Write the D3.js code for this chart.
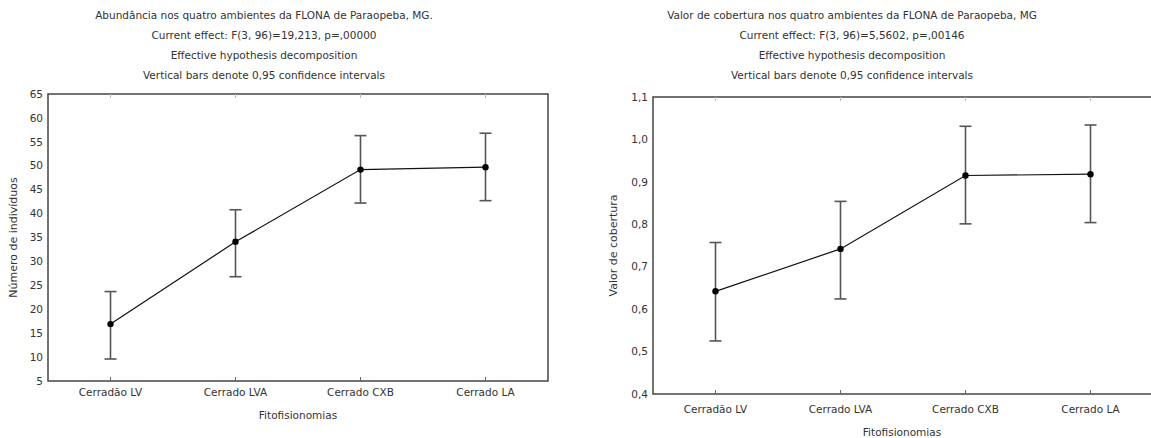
<!DOCTYPE html>
<html>
<head>
<meta charset="utf-8">
<script src="https://cdn.jsdelivr.net/npm/d3@7"></script>
<style>
  body { margin: 0; background: #fff; }
  svg text { font-family: "DejaVu Sans", sans-serif; font-size: 10.5px; fill: #333; }
</style>
</head>
<body>
<svg id="chart" width="1151" height="438"></svg>
<script>
// categories shared by both panels
const categories = ['Cerradão LV', 'Cerrado LVA', 'Cerrado CXB', 'Cerrado LA'];

// left panel - abundance
const abundMean = [16.9, 34.1, 49.2, 49.7];
const abundLow = [9.6, 26.8, 42.2, 42.7];
const abundHigh = [23.7, 40.8, 56.3, 56.8];
const abundTicks = [5, 10, 15, 20, 25, 30, 35, 40, 45, 50, 55, 60, 65];
const abundTitle = [
  'Abundância nos quatro ambientes da FLONA de Paraopeba, MG.',
  'Current effect: F(3, 96)=19,213, p=,00000',
  'Effective hypothesis decomposition',
  'Vertical bars denote 0,95 confidence intervals'
];

// right panel - cover value
const coverMean = [0.642, 0.742, 0.915, 0.918];
const coverLow = [0.525, 0.624, 0.801, 0.804];
const coverHigh = [0.757, 0.854, 1.031, 1.034];
const coverTicks = [0.4, 0.5, 0.6, 0.7, 0.8, 0.9, 1.0, 1.1];
const coverTitle = [
  'Valor de cobertura nos quatro ambientes da FLONA de Paraopeba, MG',
  'Current effect: F(3, 96)=5,5602, p=,00146',
  'Effective hypothesis decomposition',
  'Vertical bars denote 0,95 confidence intervals'
];

const svg = d3.select('#chart');

function drawPanel(opt) {
  const { left, right, top, bottom } = opt.frame;
  const g = svg.append('g');

  const x = d3.scalePoint().domain(categories).range([left, right]).padding(0.5);
  const y = d3.scaleLinear().domain(d3.extent(opt.ticks)).range([bottom, top]);

  // titles
  g.selectAll('text.title')
    .data(opt.title)
    .join('text')
    .attr('class', 'title')
    .attr('x', opt.titleX)
    .attr('y', (d, i) => opt.titleY + i * 20)
    .attr('text-anchor', 'middle')
    .text(d => d);

  // frame
  g.append('rect')
    .attr('x', left).attr('y', top)
    .attr('width', right - left).attr('height', bottom - top)
    .attr('fill', 'none').attr('stroke', '#444').attr('stroke-width', 1.5);

  // category ticks on bottom and top, pointing inward
  g.append('g')
    .selectAll('line')
    .data(categories)
    .join('line')
    .attr('x1', d => x(d)).attr('x2', d => x(d))
    .attr('y1', bottom).attr('y2', bottom - 4)
    .attr('stroke', '#666');
  g.append('g')
    .selectAll('line')
    .data(categories)
    .join('line')
    .attr('x1', d => x(d)).attr('x2', d => x(d))
    .attr('y1', top).attr('y2', top + 4)
    .attr('stroke', '#bbb');

  // y tick labels
  g.append('g')
    .selectAll('text')
    .data(opt.ticks)
    .join('text')
    .attr('x', left - 5)
    .attr('y', d => y(d))
    .attr('dy', '0.35em')
    .attr('text-anchor', 'end')
    .text(opt.fmt);

  // x category labels
  g.append('g')
    .selectAll('text')
    .data(categories)
    .join('text')
    .attr('x', d => x(d))
    .attr('y', bottom + opt.catGap)
    .attr('text-anchor', 'middle')
    .text(d => d);

  g.append('text')
    .attr('x', (left + Math.min(right, 1151 + 2)) / 2 + opt.xLabelShift)
    .attr('y', bottom + opt.catGap + 23)
    .attr('text-anchor', 'middle')
    .text('Fitofisionomias');

  g.append('text')
    .attr('transform', `translate(${opt.yLabelX},${(top + bottom) / 2}) rotate(-90)`)
    .attr('text-anchor', 'middle')
    .style('font-size', '11px')
    .text(opt.yLabel);

  // line through the means
  const line = d3.line().x((d, i) => x(categories[i])).y(d => y(d));
  g.append('path')
    .datum(opt.mean)
    .attr('d', line)
    .attr('fill', 'none')
    .attr('stroke', '#111')
    .attr('stroke-width', 1.2);

  // confidence interval bars
  const bars = g.append('g').attr('stroke', '#555').attr('stroke-width', 1.6);
  categories.forEach((c, i) => {
    const cx = x(c);
    bars.append('line').attr('x1', cx).attr('x2', cx).attr('y1', y(opt.low[i])).attr('y2', y(opt.high[i]));
    bars.append('line').attr('x1', cx - 6).attr('x2', cx + 6).attr('y1', y(opt.low[i])).attr('y2', y(opt.low[i]));
    bars.append('line').attr('x1', cx - 6).attr('x2', cx + 6).attr('y1', y(opt.high[i])).attr('y2', y(opt.high[i]));
  });

  // mean points
  g.append('g')
    .selectAll('circle')
    .data(opt.mean)
    .join('circle')
    .attr('cx', (d, i) => x(categories[i]))
    .attr('cy', d => y(d))
    .attr('r', 3.2)
    .attr('fill', '#000');
}

drawPanel({
  frame: { left: 48, right: 548, top: 94, bottom: 381 },
  ticks: abundTicks,
  fmt: d => d,
  mean: abundMean, low: abundLow, high: abundHigh,
  title: abundTitle, titleX: 264, titleY: 19,
  yLabel: 'Número de indivíduos', yLabelX: 17,
  catGap: 15, xLabelShift: 0
});

drawPanel({
  frame: { left: 653, right: 1153, top: 97, bottom: 394 },
  ticks: coverTicks,
  fmt: d => d3.format('.1f')(d).replace('.', ','),
  mean: coverMean, low: coverLow, high: coverHigh,
  title: coverTitle, titleX: 852, titleY: 19,
  yLabel: 'Valor de cobertura', yLabelX: 617,
  catGap: 19, xLabelShift: -1
});
</script>
</body>
</html>
